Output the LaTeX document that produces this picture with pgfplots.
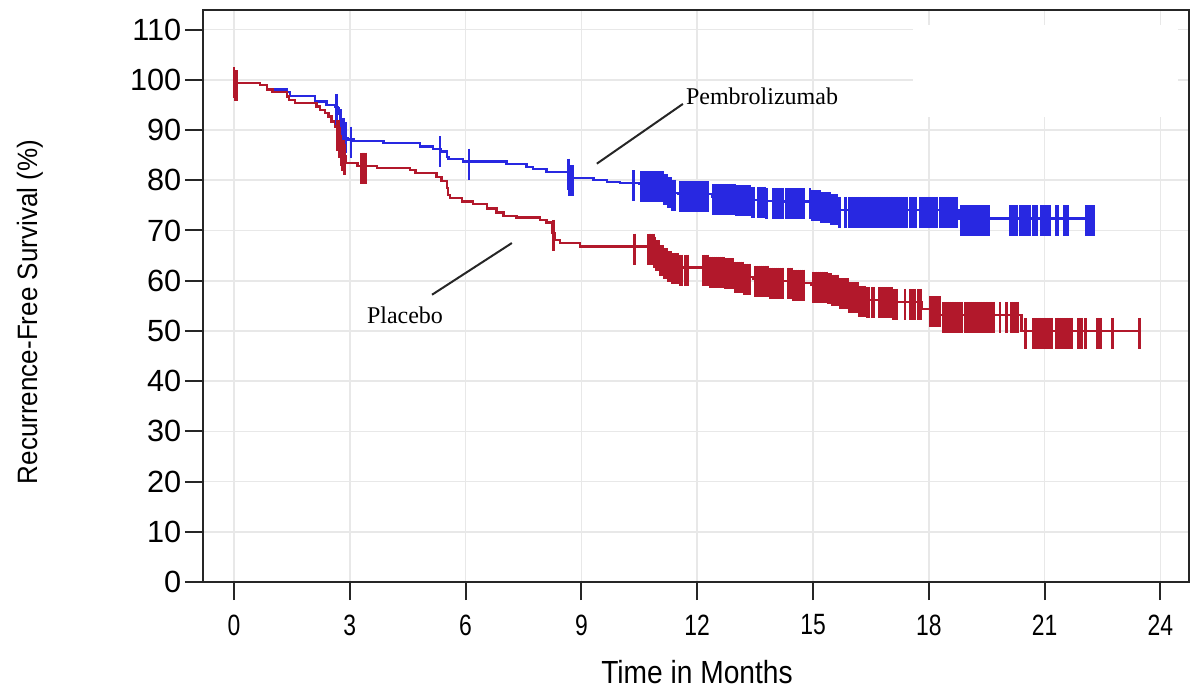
\documentclass[border=0pt]{standalone}
\usepackage{fontspec}
\setmainfont{Liberation Sans}
\newfontfamily\ticksans[FakeStretch=0.78]{Liberation Sans}
\newfontfamily\labsans[FakeStretch=0.88]{Liberation Sans}
\newfontfamily\ylabsans[FakeStretch=0.93]{Liberation Sans}
\newfontfamily\serif{Liberation Serif}
\usepackage{pgfplots}
\pgfplotsset{compat=1.18}
\usetikzlibrary{calc}

\definecolor{pembro}{RGB}{40,40,225}
\definecolor{placebo}{RGB}{178,24,43}

\begin{document}
\begin{tikzpicture}
\begin{axis}[
    name=ax,
    scale only axis,
    width=295.8pt, height=171.6pt,
    xmin=-0.803, xmax=24.74,
    ymin=0, ymax=113.9,
    xtick={0,3,...,24},
    ytick={0,10,...,110},
    grid=major,
    grid style={line width=0.5pt, black!9},
    axis line style={line width=0.6pt, black!85},
    tick align=outside,
    major tick length=5.4pt,
    tick style={line width=0.6pt, black!85},
    xtick pos=bottom, ytick pos=left,
    /pgf/number format/assume math mode=true,
    xticklabel style={font=\ticksans\fontsize{8.8}{10}\selectfont, yshift=-0.9pt},
    yticklabel style={font=\fontsize{9.2}{10}\selectfont, xshift=2.4pt},
    xlabel={Time in Months},
    ylabel={Recurrence-Free Survival (\%)},
    xlabel style={font=\labsans\fontsize{9.6}{11}\selectfont,
                  at={(axis description cs:0.501,-0.157)}, anchor=center},
    ylabel style={font=\ylabsans\fontsize{8.4}{10}\selectfont,
                  at={(axis description cs:-0.1755,0.472)}, anchor=center},
    clip=false,
]
% erased legend area
\fill[white] (axis cs:17.59,92.6) rectangle (axis cs:24.46,111.0);

% Pembrolizumab
\addplot[const plot, color=pembro, line width=0.7pt] coordinates {
  (0,100) (0.05,99.3) (0.67,98.9) (0.85,98.1) (1.36,97.6) (1.45,96.8)
  (2.10,95.7) (2.40,95.0) (2.62,94.6) (2.68,94.3) (2.72,93.3) (2.76,91.5)
  (2.80,89.8) (2.84,89.0) (2.90,88.4) (2.95,88.1) (3.10,87.8) (3.87,87.4)
  (4.82,86.7) (5.16,86.2) (5.36,85.7) (5.51,84.6) (5.56,84.2) (5.94,83.7)
  (7.06,83.3) (7.58,82.7) (7.75,82.2) (8.10,81.7) (8.68,80.4) (9.31,80.1)
  (9.66,79.6) (10.00,79.4) (10.50,79.2) (11.15,78.6) (11.25,78.0) (11.35,77.5)
  (11.50,77.2) (12.40,76.7) (13.00,76.4) (13.40,76.1) (13.80,75.9) (14.25,75.8)
  (14.95,75.4) (15.20,75.0) (15.45,74.6) (15.65,74.1) (18.78,72.4) (22.26,72.4)
};
% Pembrolizumab censored
\addplot[only marks, mark=|, mark size=4.65pt, color=pembro,
         mark options={line width=0.8pt, yshift=-0.75pt}] coordinates {
  (2.66,94.6) (2.77,91.5) (2.80,89.8) (2.83,89.8) (2.86,89.0) (2.89,89.0)
  (3.03,88.1) (5.34,86.2) (6.09,83.7)
  (8.66,81.7) (8.70,80.4) (8.74,80.4) (8.78,80.4) (10.35,79.4)
  (10.56,79.2) (10.61,79.2) (10.66,79.2) (10.71,79.2) (10.76,79.2) (10.81,79.2)
  (10.86,79.2) (10.91,79.2) (10.96,79.2) (11.01,79.2) (11.06,79.2) (11.11,79.2)
  (11.16,78.6) (11.21,78.6) (11.26,78.0) (11.31,78.0) (11.36,77.5) (11.41,77.5)
  (11.55,77.2) (11.60,77.2) (11.65,77.2) (11.70,77.2) (11.75,77.2) (11.82,77.2)
  (11.87,77.2) (11.92,77.2) (11.97,77.2) (12.03,77.2) (12.08,77.2) (12.13,77.2)
  (12.18,77.2) (12.23,77.2) (12.28,77.2)
  (12.42,76.7) (12.47,76.7) (12.52,76.7) (12.57,76.7) (12.62,76.7) (12.67,76.7)
  (12.72,76.7) (12.77,76.7) (12.82,76.7) (12.87,76.7) (12.92,76.7) (12.97,76.7)
  (13.02,76.4) (13.07,76.4) (13.12,76.4) (13.17,76.4) (13.22,76.4) (13.27,76.4)
  (13.32,76.4) (13.37,76.4) (13.42,76.1) (13.45,76.1)
  (13.58,76.1) (13.62,76.1) (13.67,76.1) (13.72,76.1) (13.76,76.1) (13.80,75.9)
  (13.97,75.9) (14.02,75.9) (14.07,75.9) (14.12,75.9) (14.17,75.9) (14.22,75.9)
  (14.30,75.8) (14.35,75.8) (14.40,75.8) (14.43,75.8) (14.48,75.8) (14.53,75.8)
  (14.58,75.8) (14.62,75.8) (14.67,75.8) (14.72,75.8) (14.75,75.8)
  (14.92,75.8) (14.97,75.4) (15.02,75.4) (15.07,75.4) (15.12,75.4) (15.17,75.4)
  (15.22,75.0) (15.27,75.0) (15.32,75.0) (15.37,75.0) (15.42,75.0)
  (15.47,74.6) (15.52,74.6) (15.57,74.6) (15.62,74.6) (15.67,74.1) (15.70,74.1)
  (15.85,74.1) (15.93,74.1)
  (16.00,74.1) (16.05,74.1) (16.10,74.1) (16.15,74.1) (16.20,74.1) (16.25,74.1)
  (16.30,74.1) (16.35,74.1) (16.40,74.1) (16.43,74.1)
  (16.47,74.1) (16.52,74.1) (16.57,74.1) (16.62,74.1) (16.67,74.1) (16.72,74.1)
  (16.77,74.1) (16.82,74.1) (16.87,74.1) (16.90,74.1)
  (16.95,74.1) (17.00,74.1) (17.03,74.1) (17.08,74.1) (17.13,74.1) (17.17,74.1)
  (17.22,74.1) (17.27,74.1) (17.32,74.1) (17.37,74.1) (17.43,74.1)
  (17.51,74.1) (17.56,74.1) (17.61,74.1) (17.66,74.1)
  (17.77,74.1) (17.82,74.1) (17.87,74.1) (17.92,74.1) (17.97,74.1) (18.02,74.1)
  (18.07,74.1) (18.12,74.1) (18.17,74.1) (18.20,74.1)
  (18.29,74.1) (18.34,74.1) (18.39,74.1) (18.44,74.1) (18.49,74.1) (18.54,74.1)
  (18.59,74.1) (18.63,74.1) (18.68,74.1) (18.72,74.1)
  (18.85,72.4) (18.90,72.4) (18.94,72.4) (18.98,72.4) (19.03,72.4) (19.08,72.4)
  (19.11,72.4) (19.16,72.4) (19.21,72.4) (19.25,72.4) (19.28,72.4)
  (19.37,72.4) (19.42,72.4) (19.47,72.4) (19.52,72.4) (19.54,72.4)
  (20.10,72.4) (20.15,72.4) (20.20,72.4) (20.25,72.4) (20.28,72.4)
  (20.36,72.4) (20.41,72.4) (20.46,72.4) (20.50,72.4) (20.55,72.4) (20.60,72.4)
  (20.62,72.4) (20.70,72.4) (20.75,72.4) (20.80,72.4)
  (20.92,72.4) (20.97,72.4) (21.02,72.4) (21.07,72.4) (21.12,72.4) (21.14,72.4)
  (21.30,72.4) (21.35,72.4) (21.50,72.4) (21.55,72.4) (21.60,72.4)
  (22.09,72.4) (22.14,72.4) (22.19,72.4) (22.24,72.4) (22.26,72.4)
};

% Placebo
\addplot[const plot, color=placebo, line width=0.7pt] coordinates {
  (0,100) (0.05,99.3) (0.67,98.9) (0.85,98.1) (1.00,97.6) (1.37,96.7)
  (1.42,96.0) (1.58,95.4) (2.14,94.7) (2.22,94.0) (2.36,93.4) (2.45,92.7)
  (2.53,91.7) (2.62,90.7) (2.68,89.5) (2.72,88.0) (2.76,86.5) (2.80,85.5)
  (2.85,84.7) (2.90,83.4) (3.20,82.9) (3.70,82.4) (4.56,82.1) (4.70,81.4)
  (5.25,80.6) (5.38,79.8) (5.51,78.5) (5.55,77.1) (5.60,76.4) (5.90,75.8)
  (6.20,75.3) (6.55,74.4) (6.80,73.6) (6.98,72.9) (7.32,72.6) (7.93,72.1)
  (8.10,71.6) (8.25,69.5) (8.30,68.1) (8.45,67.5) (8.96,66.8) (10.90,66.2)
  (10.95,65.5) (11.05,64.5) (11.12,63.9) (11.25,63.3) (11.34,62.9) (11.55,62.6)
  (12.30,62.2) (12.70,61.9) (12.98,61.2) (13.20,60.8) (13.45,60.4) (13.89,60.0)
  (14.50,59.6) (14.95,59.2) (15.40,58.9) (15.50,58.6) (15.67,57.9) (15.93,57.1)
  (16.19,56.4) (16.40,56.2) (17.07,55.8) (17.82,54.3) (18.29,53.2) (20.40,50.0)
  (23.47,50.0)
};
% Placebo censored
\addplot[only marks, mark=|, mark size=4.65pt, color=placebo,
         mark options={line width=0.8pt, yshift=-0.75pt}] coordinates {
  (0.00,100) (0.04,99.3) (0.08,99.3)
  (2.68,89.5) (2.71,89.5) (2.74,88.0) (2.77,86.5) (2.80,85.5) (2.83,85.5) (2.86,84.7)
  (3.31,82.9) (3.34,82.9) (3.37,82.9) (3.40,82.9)
  (8.28,69.5) (10.38,66.8)
  (10.74,66.8) (10.78,66.8) (10.82,66.8) (10.86,66.8)
  (10.90,66.2) (10.95,65.5) (11.00,65.5) (11.05,64.5) (11.10,64.5) (11.15,63.9)
  (11.20,63.9) (11.25,63.3) (11.30,63.3) (11.35,62.9) (11.40,62.9) (11.45,62.9)
  (11.50,62.9) (11.55,62.6) (11.60,62.6) (11.70,62.6) (11.75,62.6)
  (12.16,62.6) (12.22,62.6) (12.27,62.6)
  (12.33,62.2) (12.38,62.2) (12.43,62.2) (12.48,62.2) (12.53,62.2) (12.58,62.2)
  (12.63,62.2) (12.68,62.2) (12.73,61.9) (12.78,61.9) (12.83,61.9) (12.88,61.9)
  (12.93,61.9) (12.98,61.2) (13.03,61.2) (13.08,61.2) (13.13,61.2) (13.18,61.2)
  (13.23,60.8) (13.28,60.8) (13.33,60.8) (13.37,60.8)
  (13.50,60.4) (13.55,60.4) (13.60,60.4) (13.65,60.4) (13.70,60.4) (13.75,60.4)
  (13.80,60.4) (13.83,60.4)
  (13.89,60.0) (13.94,60.0) (13.99,60.0) (14.04,60.0) (14.09,60.0) (14.14,60.0)
  (14.19,60.0) (14.22,60.0)
  (14.35,60.0) (14.40,60.0) (14.45,60.0) (14.50,59.6) (14.55,59.6) (14.60,59.6)
  (14.65,59.6) (14.70,59.6) (14.75,59.6)
  (15.00,59.2) (15.07,59.2) (15.12,59.2) (15.17,59.2) (15.22,59.2) (15.28,59.2)
  (15.35,59.2) (15.40,58.9) (15.45,58.9) (15.50,58.6) (15.55,58.6) (15.60,58.6)
  (15.65,58.6) (15.70,57.9) (15.75,57.9) (15.80,57.9) (15.85,57.9) (15.90,57.9)
  (15.95,57.1) (16.00,57.1) (16.05,57.1) (16.10,57.1) (16.15,57.1)
  (16.20,56.4) (16.25,56.4) (16.30,56.4) (16.35,56.4) (16.40,56.2) (16.43,56.2)
  (16.53,56.2) (16.58,56.2)
  (16.73,56.2) (16.78,56.2) (16.83,56.2) (16.88,56.2) (16.93,56.2) (16.98,56.2)
  (17.03,56.2) (17.08,55.8) (17.13,55.8) (17.18,55.8)
  (17.38,55.8) (17.51,55.8) (17.58,55.8) (17.64,55.8) (17.72,55.8) (17.76,55.8)
  (17.80,55.8)
  (18.03,54.3) (18.08,54.3) (18.13,54.3) (18.18,54.3) (18.23,54.3) (18.27,54.3)
  (18.38,53.2) (18.43,53.2) (18.48,53.2) (18.53,53.2) (18.58,53.2) (18.63,53.2)
  (18.68,53.2) (18.72,53.2) (18.77,53.2) (18.82,53.2) (18.85,53.2)
  (18.94,53.2) (18.99,53.2) (19.04,53.2) (19.09,53.2) (19.14,53.2) (19.19,53.2)
  (19.24,53.2) (19.29,53.2) (19.34,53.2) (19.39,53.2) (19.41,53.2)
  (19.46,53.2) (19.51,53.2) (19.56,53.2) (19.61,53.2) (19.67,53.2)
  (19.84,53.2) (20.02,53.2) (20.15,53.2) (20.20,53.2) (20.25,53.2) (20.30,53.2)
  (20.50,50.0) (20.71,50.0) (20.76,50.0) (20.81,50.0) (20.84,50.0)
  (20.88,50.0) (20.93,50.0) (20.98,50.0) (21.01,50.0)
  (21.06,50.0) (21.11,50.0) (21.16,50.0) (21.18,50.0)
  (21.30,50.0) (21.35,50.0) (21.40,50.0) (21.45,50.0) (21.50,50.0) (21.55,50.0)
  (21.57,50.0) (21.62,50.0) (21.67,50.0) (21.71,50.0)
  (21.88,50.0) (21.93,50.0) (21.97,50.0) (22.06,50.0)
  (22.37,50.0) (22.42,50.0) (22.45,50.0) (22.76,50.0) (23.45,50.0)
};

% annotations
\draw[black!85, line width=0.6pt] (axis cs:9.40,83.3) -- (axis cs:11.63,95.2);
\draw[black!85, line width=0.6pt] (axis cs:5.13,57.2) -- (axis cs:7.20,67.5);
\node[font=\serif\fontsize{7.2}{8.6}\selectfont] at (axis cs:13.68,96.8) {Pembrolizumab};
\node[font=\serif\fontsize{7.2}{8.6}\selectfont] at (axis cs:4.43,53.2) {Placebo};
\end{axis}
\pgfresetboundingbox
\path (ax.south west) ++(-60.9pt,-32.1pt) coordinate (bl);
\path (ax.north east) ++(0.6pt,3pt) coordinate (tr);
\path (bl) rectangle (tr);
\end{tikzpicture}
\end{document}
